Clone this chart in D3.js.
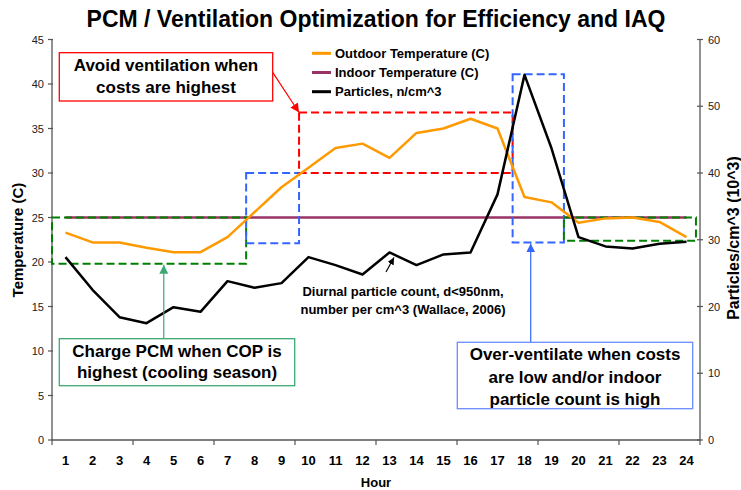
<!DOCTYPE html>
<html><head><meta charset="utf-8">
<script src="https://cdn.jsdelivr.net/npm/d3@7/dist/d3.min.js"></script>
<style>
html,body{margin:0;padding:0;background:#fff;}
svg{display:block;font-family:"Liberation Sans",Arial,sans-serif;}
</style></head>
<body>
<svg id="chart" width="741" height="490"></svg>
<script>
const hours = [1,2,3,4,5,6,7,8,9,10,11,12,13,14,15,16,17,18,19,20,21,22,23,24];
const outdoorTemp = [23.3,22.2,22.2,21.6,21.1,21.1,22.8,25.6,28.4,30.6,32.8,33.3,31.7,34.5,35.0,36.1,35.0,27.3,26.7,24.4,24.9,25.0,24.5,22.8];
const indoorTemp = [25,25,25,25,25,25,25,25,25,25,25,25,25,25,25,25,25,25,25,25,25,25,25,25];
const particles = [27.4,22.5,18.4,17.5,19.9,19.2,23.8,22.8,23.5,27.4,26.2,24.8,28.1,26.2,27.8,28.1,36.8,54.7,43.7,30.4,29.0,28.7,29.4,29.7];
const leftTicks = [0,5,10,15,20,25,30,35,40,45];
const rightTicks = [0,10,20,30,40,50,60];
const seriesNames = ["Outdoor Temperature (C)","Indoor Temperature (C)","Particles, n/cm^3"];
const seriesColors = ["#FF9900","#993366","#000000"];

const svg = d3.select("#chart");
const L = 52, R = 700, T = 39.5, B = 440;

const x = d3.scaleBand().domain(hours).range([L, R]);
const xl = d3.scaleLinear().domain([0.5, 24.5]).range([L, R]); // continuous hour position
const yL = d3.scaleLinear().domain([0,45]).range([B, T]);
const yR = d3.scaleLinear().domain([0,60]).range([B, T]);
const cx = h => x(h) + x.bandwidth()/2;

// defs: arrow markers
const defs = svg.append("defs");
function marker(id, color, size){
  defs.append("marker").attr("id", id).attr("viewBox","0 0 10 10")
    .attr("refX",10).attr("refY",5).attr("markerWidth",size).attr("markerHeight",size)
    .attr("markerUnits","userSpaceOnUse").attr("orient","auto")
    .append("path").attr("d","M0,0 L10,5 L0,10 z").attr("fill", color);
}
marker("arRed","#FF0000",9); marker("arGreen","#3CA874",9); marker("arBlue","#3366FF",9); marker("arBlack","#000",7);

// Title
svg.append("text").attr("x",376).attr("y",26.5).attr("text-anchor","middle")
  .attr("font-size",23).attr("font-weight","bold").attr("fill","#000")
  .text("PCM / Ventilation Optimization for Efficiency and IAQ");

// Axes
const axisColor = "#555";
svg.append("line").attr("x1",L).attr("x2",L).attr("y1",T).attr("y2",B).attr("stroke",axisColor).attr("stroke-width",1.3);
svg.append("line").attr("x1",R).attr("x2",R).attr("y1",T).attr("y2",B).attr("stroke",axisColor).attr("stroke-width",1.3);
svg.append("line").attr("x1",L).attr("x2",R).attr("y1",B).attr("y2",B).attr("stroke",axisColor).attr("stroke-width",1.3);

leftTicks.forEach(t=>{
  svg.append("line").attr("x1",L-4).attr("x2",L+1).attr("y1",yL(t)).attr("y2",yL(t)).attr("stroke",axisColor).attr("stroke-width",1.2);
  svg.append("text").attr("x",44).attr("y",yL(t)+4).attr("text-anchor","end").attr("font-size",11).attr("fill","#222").text(t);
});
rightTicks.forEach(t=>{
  svg.append("line").attr("x1",R-3).attr("x2",R+3).attr("y1",yR(t)).attr("y2",yR(t)).attr("stroke",axisColor).attr("stroke-width",1.2);
  svg.append("text").attr("x",708).attr("y",yR(t)+4).attr("text-anchor","start").attr("font-size",11).attr("fill","#222").text(t);
});
d3.range(0.5, 25, 3).forEach(t=>{
  svg.append("line").attr("x1",xl(t)).attr("x2",xl(t)).attr("y1",B).attr("y2",B+5).attr("stroke",axisColor).attr("stroke-width",1.2);
});
svg.selectAll(".xlab").data(hours).enter().append("text")
  .attr("x",d=>cx(d)).attr("y",464.5).attr("text-anchor","middle")
  .attr("font-size",13).attr("font-weight","bold").attr("fill","#000").text(d=>d);

svg.append("text").attr("x",376).attr("y",487).attr("text-anchor","middle")
  .attr("font-size",13).attr("font-weight","bold").text("Hour");
svg.append("text").attr("transform","translate(23,240) rotate(-90)").attr("text-anchor","middle")
  .attr("font-size",15).attr("font-weight","bold").text("Temperature (C)");
svg.append("text").attr("transform","translate(739,238) rotate(-90)").attr("text-anchor","middle")
  .attr("font-size",16).attr("font-weight","bold").text("Particles/cm^3 (10^3)");

// Dashed annotation boxes
function dbox(h0,h1,v0,v1,color){
  svg.append("rect").attr("x",xl(h0)).attr("y",yL(v1)).attr("width",xl(h1)-xl(h0)).attr("height",yL(v0)-yL(v1))
    .attr("fill","none").attr("stroke",color).attr("stroke-width",2).attr("stroke-dasharray","8,4");
}

// Lines
const lineL = d3.line().x((d,i)=>cx(hours[i])).y(d=>yL(d));
const lineR = d3.line().x((d,i)=>cx(hours[i])).y(d=>yR(d));
svg.append("path").datum(indoorTemp).attr("d",lineL).attr("fill","none").attr("stroke",seriesColors[1]).attr("stroke-width",2.5);

dbox(0.5, 7.69, 19.8, 25, "#008000");
dbox(7.69, 9.65, 22.1, 30, "#3366FF");
dbox(9.65, 17.56, 30, 36.8, "#FF0000");
dbox(17.56, 19.46, 22.2, 41.1, "#3366FF");
dbox(19.46, 24.35, 22.4, 25, "#008000");

svg.append("path").datum(outdoorTemp).attr("d",lineL).attr("fill","none").attr("stroke",seriesColors[0]).attr("stroke-width",2.5).attr("stroke-linejoin","round");
svg.append("path").datum(particles).attr("d",lineR).attr("fill","none").attr("stroke",seriesColors[2]).attr("stroke-width",2.5).attr("stroke-linejoin","round");

// Legend
seriesNames.forEach((n,i)=>{
  const yy = 53.3 + i*19.2;
  svg.append("line").attr("x1",312).attr("x2",331).attr("y1",yy).attr("y2",yy).attr("stroke",seriesColors[i]).attr("stroke-width",3);
  svg.append("text").attr("x",335).attr("y",yy+4.5).attr("font-size",13).attr("font-weight","bold").text(n);
});

// Text boxes
function tbox(x0,y0,x1,y1,color,lines,baselines){
  svg.append("rect").attr("x",x0).attr("y",y0).attr("width",x1-x0).attr("height",y1-y0)
    .attr("fill","#fff").attr("stroke",color).attr("stroke-width",1.3);
  lines.forEach((t,i)=>svg.append("text").attr("x",(x0+x1)/2).attr("y",baselines[i]).attr("text-anchor","middle")
    .attr("font-size",17).attr("font-weight","bold").text(t));
}
// red callout
svg.append("line").attr("x1",272.7).attr("y1",72.3).attr("x2",xl(9.65)).attr("y2",yL(36.8)).attr("stroke","#FF0000").attr("stroke-width",1.2).attr("marker-end","url(#arRed)");
tbox(59.3,52.7,272.7,101,"#FF0000",["Avoid ventilation when","costs are highest"],[71,93]);
// green callout
svg.append("line").attr("x1",xl(4.64)).attr("y1",338.7).attr("x2",xl(4.64)).attr("y2",yL(19.8)+1).attr("stroke","#3CA874").attr("stroke-width",1.2).attr("marker-end","url(#arGreen)");
tbox(59.3,338.7,294.7,385.7,"#3CA874",["Charge PCM when COP is","highest (cooling season)"],[357.3,378.3]);
// blue callout
svg.append("line").attr("x1",xl(18.23)).attr("y1",342.3).attr("x2",xl(18.23)).attr("y2",yL(22.2)+1).attr("stroke","#3366FF").attr("stroke-width",1.2).attr("marker-end","url(#arBlue)");
tbox(457.3,342.3,692.7,408.7,"#6A8CFF",["Over-ventilate when costs","are low and/or indoor","particle count is high"],[360,382.5,405]);
// particle note
svg.append("line").attr("x1",386).attr("y1",272).attr("x2",394).attr("y2",257.5).attr("stroke","#000").attr("stroke-width",1.2).attr("marker-end","url(#arBlack)");
svg.append("text").attr("x",403).attr("y",296).attr("text-anchor","middle").attr("font-size",13).attr("font-weight","bold").text("Diurnal particle count, d<950nm,");
svg.append("text").attr("x",403).attr("y",313.5).attr("text-anchor","middle").attr("font-size",13).attr("font-weight","bold").text("number per cm^3 (Wallace, 2006)");
</script>
</body></html>
